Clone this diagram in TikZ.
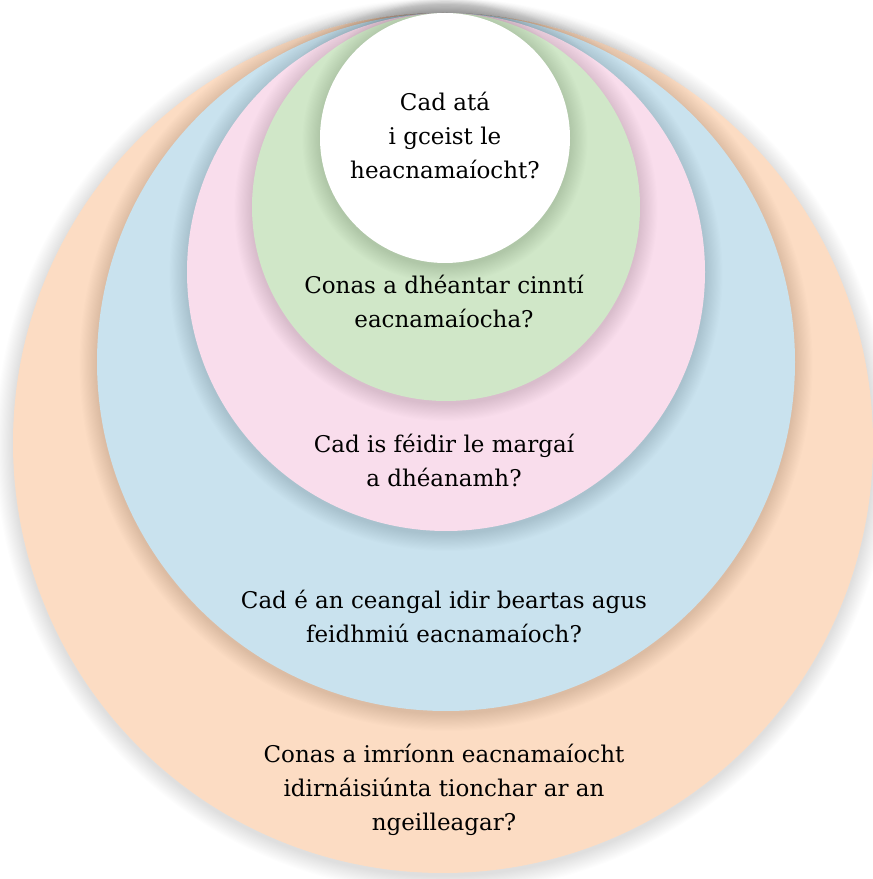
\documentclass[tikz,border=0pt]{standalone}
\usepackage{fontspec}
\setmainfont{DejaVu Serif}
\definecolor{cOrange}{HTML}{FCDCC3}
\definecolor{cBlue}{HTML}{C9E2EE}
\definecolor{cPink}{HTML}{F9DDEC}
\definecolor{cGreen}{HTML}{D0E7C8}
\newcommand{\softdisc}[4]{%
  \foreach \k in {1,...,16}{\fill[black,opacity=0.009] (#1,#2-2.5) circle ({#3+\k*1.1});}
  \fill[#4] (#1,#2) circle (#3);}
\tikzset{qtext/.style={align=center,text=black,font=\fontsize{23}{34}\selectfont,inner sep=0pt}}
\begin{document}
\begin{tikzpicture}[x=1pt,y=1pt]
\useasboundingbox (0,0) rectangle (873,879);
\softdisc{443}{436}{430}{cOrange}
\softdisc{446}{517}{349}{cBlue}
\softdisc{446}{607}{259}{cPink}
\softdisc{446}{672}{194}{cGreen}
\softdisc{445}{741}{125}{white}
\node[qtext] (t1) at (445,744) {Cad atá\\i gceist le\\heacnamaíocht?};
\node[qtext] (t2) at (444,578) {Conas a dhéantar cinntí\\eacnamaíocha?};
\node[qtext] (t3) at (444,418.5) {Cad is féidir le margaí\\a dhéanamh?};
\node[qtext] (t4) at (444,263) {Cad é an ceangal idir beartas agus\\feidhmiú eacnamaíoch?};
\node[qtext] (t5) at (444,89) {Conas a imríonn eacnamaíocht\\idirnáisiúnta tionchar ar an\\ngeilleagar?};
\end{tikzpicture}
\end{document}
